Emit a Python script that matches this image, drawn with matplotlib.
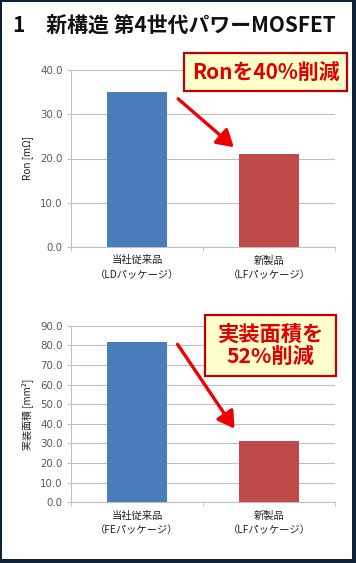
import numpy as np
import matplotlib
matplotlib.use('Agg')
import matplotlib.pyplot as plt
from matplotlib.patches import Rectangle, FancyArrowPatch

plt.rcParams['font.family'] = ['Noto Sans CJK JP', 'DejaVu Sans']

# data
title = '1\u3000新構造 第4世代パワーMOSFET'
cats1 = ['当社従来品\n（LDパッケージ）', '新製品\n（LFパッケージ）']
ron = [35.0, 21.0]
cats2 = ['当社従来品\n（FEパッケージ）', '新製品\n（LFパッケージ）']
area = [81.5, 31.0]
yticks1 = np.arange(0, 40.1, 10)
yticks2 = np.arange(0, 90.1, 10)

W, H = 356, 563
fig = plt.figure(figsize=(W / 100, H / 100), dpi=100)
fig.patch.set_facecolor('white')

def px(x0, y0, x1, y1):
    # pixel box (top-left origin) -> figure fraction rect
    return [x0 / W, 1 - y1 / H, (x1 - x0) / W, (y1 - y0) / H]

# dark frame around the panel (thicker on the right and bottom)
navy = '#0f2233'
for r in [px(0, 0, W, 2), px(0, 0, 2, H), px(W - 4, 0, W, H), px(0, H - 4, W, H)]:
    fig.patches.append(Rectangle((r[0], r[1]), r[2], r[3], transform=fig.transFigure,
                                 facecolor=navy, edgecolor='none', zorder=10))

fig.text(13 / W, 1 - 26 / H, title, fontsize=15, fontweight='bold',
         ha='left', va='center', color='#111111')

blue = '#4a7ebb'
red = '#be4b48'
grid = '#bfbfbf'

def bar_chart(rect, cats, vals, yticks, ylabel):
    ax = fig.add_axes(rect)
    x = np.arange(len(cats))
    ax.bar(x, vals, width=0.45, color=[blue, red], zorder=3)
    ax.set_xlim(-0.5, len(cats) - 0.5)
    ax.set_ylim(yticks[0], yticks[-1])
    ax.set_yticks(yticks)
    ax.set_yticklabels(['%.1f' % v for v in yticks], fontsize=7.4, color='#595959',
                       family=['DejaVu Sans'])
    ax.set_xticks(x)
    ax.set_xticklabels(cats, fontsize=7.4, color='#222222', linespacing=1.55)
    ax.set_xticks([-0.5, 0.5, 1.5], minor=True)
    ax.tick_params(axis='x', which='major', length=0, pad=6)
    ax.tick_params(axis='x', which='minor', length=3, color=grid, direction='out')
    ax.tick_params(axis='y', length=3, color=grid, pad=3)
    ax.yaxis.grid(True, color=grid, linewidth=0.8, zorder=0)
    for s in ['top', 'right']:
        ax.spines[s].set_visible(False)
    for s in ['left', 'bottom']:
        ax.spines[s].set_color(grid)
        ax.spines[s].set_linewidth(0.8)
    ax.set_ylabel(ylabel, fontsize=7.2, color='#222222', labelpad=5)
    return ax

ax1 = bar_chart(px(71, 70, 335, 247), cats1, ron, yticks1, 'Ron [mΩ]')
ax2 = bar_chart(px(71, 325.7, 335, 502.3), cats2, area, yticks2, '実装面積 [mm²]')

def callout(box, lines, fs):
    x0, y0, x1, y1 = box
    fig.patches.append(Rectangle((x0 / W, 1 - y1 / H), (x1 - x0) / W, (y1 - y0) / H,
                                 transform=fig.transFigure, facecolor='#ffffcc',
                                 edgecolor='#c00000', linewidth=1.6, zorder=5))
    fig.text((x0 + x1) / 2 / W, 1 - (y0 + y1) / 2 / H, lines, fontsize=fs,
             fontweight='bold', color='#e00000', ha='center', va='center',
             linespacing=1.1, zorder=6)

def arrow(p0, p1):
    fig.patches.append(FancyArrowPatch((p0[0] / W, 1 - p0[1] / H), (p1[0] / W, 1 - p1[1] / H),
                                       transform=fig.transFigure,
                                       arrowstyle='-|>,head_length=4,head_width=2.4',
                                       mutation_scale=2.5, color='#ee0000', linewidth=2.4, zorder=7))

callout((184, 53, 347, 91), 'Ronを40%削減', 15)
callout((205, 315, 336, 376), '実装面積を\n52%削減', 15.3)
arrow((176, 97), (236, 149))
arrow((176, 342), (236, 431))

fig.savefig('out.png', dpi=100)
